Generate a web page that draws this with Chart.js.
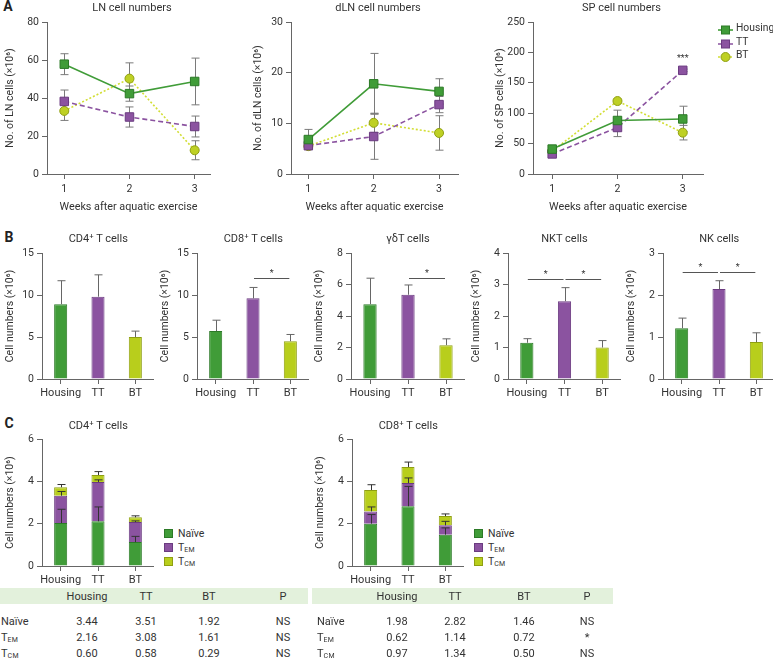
<!DOCTYPE html>
<html>
<head>
<meta charset="utf-8">
<script src="https://cdn.jsdelivr.net/npm/chart.js@4.4.1/dist/chart.umd.min.js"></script>
<style>
body { margin:0; width:773px; height:659px; position:relative; overflow:hidden; background:#fff; font-family:Roboto, 'Liberation Sans', sans-serif; color:#333; }
canvas { position:absolute; }
.t { position:absolute; transform:translate(-50%,-50%); white-space:nowrap; font-size:11px; color:#333; }
.tl { position:absolute; transform:translate(0,-50%); white-space:nowrap; font-size:11px; color:#333; }
.lab { position:absolute; font-weight:bold; font-size:14px; color:#222; transform:translate(-50%,-50%); }
.band { position:absolute; background:#e3f1dc; }
sub { font-size:7px; vertical-align:-1px; letter-spacing:0.3px; }
</style>
</head>
<body>
<script>
// ---- data ----
const weeks = [1, 2, 3];
const groups = ['Housing', 'TT', 'BT'];
const subsets = ['Naïve', 'T<sub>EM</sub>', 'T<sub>CM</sub>'];

// panel A: mean and SEM (x10^6)
const lnHousing = [57.8, 42.3, 48.7], lnHousingErr = [5.5, 4.0, 12.3];
const lnTT = [38.2, 30.0, 25.0], lnTTErr = [6.0, 5.3, 5.5];
const lnBT = [33.2, 50.2, 12.5], lnBTErr = [5.0, 8.3, 5.0];
const dlnHousing = [6.8, 17.8, 16.3], dlnHousingErr = [2.0, 6.0, 2.5];
const dlnTT = [5.6, 7.4, 13.7], dlnTTErr = [0.5, 4.5, 1.6];
const dlnBT = [5.5, 10.1, 8.1], dlnBTErr = [0.5, 1.9, 3.4];
const spHousing = [41, 88, 90.5], spHousingErr = [4, 17, 21];
const spTT = [33, 76.5, 170.5], spTTErr = [3, 15, 2];
const spBT = [37.5, 120, 68], spBTErr = [3, 3, 12];

// panel B: Housing, TT, BT
const cd4 = [8.9, 9.8, 5.0], cd4Err = [2.8, 2.6, 0.7];
const cd8 = [5.7, 9.6, 4.5], cd8Err = [1.3, 1.3, 0.8];
const gdT = [4.75, 5.35, 2.15], gdTErr = [1.65, 0.62, 0.4];
const nkt = [1.15, 2.47, 1.0], nktErr = [0.13, 0.43, 0.22];
const nk = [1.21, 2.14, 0.88], nkErr = [0.24, 0.2, 0.22];
const cd8Sig = [[1, 2, 12.0]];
const gdTSig = [[1, 2, 6.4]];
const nktSig = [[0, 1, 3.18], [1, 2, 3.18]];
const nkSig = [[0, 1, 2.54], [1, 2, 2.54]];

// panel C: stacked subsets
const cd4Naive = [2.03, 2.11, 1.13], cd4NaiveErr = [0.65, 0.68, 0.27];
const cd4Tem = [1.29, 1.86, 0.95], cd4TemErr = [0.2, 0.1, 0.05];
const cd4Tcm = [0.40, 0.33, 0.22], cd4TcmErr = [0.13, 0.16, 0.07];
const cd8Naive = [2.0, 2.82, 1.48], cd8NaiveErr = [0.43, 0.94, 0.32];
const cd8Tem = [0.58, 1.10, 0.44], cd8TemErr = [0.21, 0.24, 0.19];
const cd8Tcm = [1.01, 0.76, 0.44], cd8TcmErr = [0.25, 0.23, 0.1];

// tables
const tableHead = ['Housing', 'TT', 'BT', 'P'];
const cd4Table = [['3.44', '3.51', '1.92', 'NS'], ['2.16', '3.08', '1.61', 'NS'], ['0.60', '0.58', '0.29', 'NS']];
const cd8Table = [['1.98', '2.82', '1.46', 'NS'], ['0.62', '1.14', '0.72', '*'], ['0.97', '1.34', '0.50', 'NS']];

// ---- styles ----
const green = '#409c38', greenEdge = '#2c7a27';
const purple = '#8b53a0', purpleEdge = '#6b3b80';
const lime = '#b8ce1c', limeEdge = '#8f9f12';
const axisGray = '#666';

Chart.defaults.font.family = "Roboto, 'Liberation Sans', sans-serif";
Chart.defaults.font.size = 10.5;
Chart.defaults.color = '#333';
Chart.defaults.animation = false;

const errorBars = {
  id: 'errorBars',
  beforeDatasetsDraw(chart, args, o) { if (o.behind) drawErrors(chart, o); },
  afterDatasetsDraw(chart, args, o) { if (!o.behind) drawErrors(chart, o); }
};
function drawErrors(chart, o) {
  const ctx = chart.ctx, y = chart.scales.y;
  chart.data.datasets.forEach((ds, di) => {
    if (!ds.errors) return;
    chart.getDatasetMeta(di).data.forEach((el, i) => {
      const e = ds.errors[i];
      if (!e) return;
      const d = y.getPixelForValue(0) - y.getPixelForValue(e);
      const x = Math.round(el.x) + 0.5, top = el.y - d, bot = o.up ? el.y : el.y + d;
      const cap = o.cap || 4;
      ctx.save();
      ctx.strokeStyle = o.color || '#777';
      ctx.lineWidth = 1;
      ctx.beginPath();
      ctx.moveTo(x, bot); ctx.lineTo(x, top);
      ctx.moveTo(x - cap, top); ctx.lineTo(x + cap, top);
      if (!o.up) { ctx.moveTo(x - cap, bot); ctx.lineTo(x + cap, bot); }
      ctx.stroke();
      ctx.restore();
    });
  });
}

const sigMarks = {
  id: 'sigMarks',
  afterDatasetsDraw(chart, args, o) {
    const ctx = chart.ctx, x = chart.scales.x, y = chart.scales.y;
    ctx.save();
    ctx.strokeStyle = '#555';
    ctx.fillStyle = '#333';
    ctx.lineWidth = 1;
    ctx.textAlign = 'center';
    ctx.textBaseline = 'middle';
    ctx.font = "9px Roboto, 'Liberation Sans', sans-serif";
    (o.lines || []).forEach(([a, b, v]) => {
      const x1 = x.getPixelForValue(a) + 1, x2 = x.getPixelForValue(b) - 1;
      const py = Math.round(y.getPixelForValue(v)) + 0.5;
      ctx.beginPath(); ctx.moveTo(x1, py); ctx.lineTo(x2, py); ctx.stroke();
      ctx.fillText('*', (x1 + x2) / 2, py - 5);
    });
    (o.notes || []).forEach(n => {
      const el = chart.getDatasetMeta(n.ds).data[n.i];
      ctx.fillText(n.text, el.x, el.y - 12);
    });
    ctx.restore();
  }
};
Chart.register(errorBars, sigMarks);

// ---- helpers ----
function place(left, top, w, h) {
  const c = document.createElement('canvas');
  c.width = w; c.height = h;
  c.style.left = left + 'px'; c.style.top = top + 'px';
  document.body.appendChild(c);
  return c;
}
function addText(html, x, y, cls, size) {
  const d = document.createElement('div');
  d.className = cls || 't';
  d.style.left = x + 'px'; d.style.top = y + 'px';
  if (size) d.style.fontSize = size + 'px';
  d.innerHTML = html;
  document.body.appendChild(d);
  return d;
}
function yAxis(max, step, title, width, pad) {
  return {
    min: 0, max: max,
    ticks: { stepSize: step, padding: 3 },
    grid: { drawOnChartArea: false, tickLength: 5, color: axisGray },
    border: { color: axisGray },
    title: { display: true, text: title, padding: { top: pad, bottom: 0 }, font: { size: 10.5 } },
    afterFit(s) { s.width = width; }
  };
}
function xWeeks(min, max) {
  return {
    type: 'linear', min: min, max: max,
    afterBuildTicks(s) { s.ticks = weeks.map(v => ({ value: v })); },
    ticks: { padding: 4, maxRotation: 0 },
    grid: { drawOnChartArea: false, tickLength: 5, color: axisGray },
    border: { color: axisGray },
    title: { display: true, text: 'Weeks after aquatic exercise', padding: { top: 0, bottom: 4 }, font: { size: 10.8 } },
    afterFit(s) { s.height = 44; }
  };
}
function xGroups(stacked) {
  return {
    stacked: stacked,
    offset: true,
    grid: { offset: false, drawOnChartArea: false, tickLength: 5, color: axisGray },
    border: { color: axisGray },
    ticks: { padding: 3, font: { size: 11 }, maxRotation: 0, minRotation: 0, autoSkip: false },
    afterFit(s) { s.height = 24; }
  };
}
function pts(vals) { return weeks.map((w, i) => ({ x: w, y: vals[i] })); }
function lineSets(h, hE, t, tE, b, bE) {
  return [
    { label: groups[0], data: pts(h), errors: hE, borderColor: green, borderWidth: 1.6,
      pointStyle: 'rect', pointRadius: 6, pointBackgroundColor: green, pointBorderColor: greenEdge, pointBorderWidth: 1 },
    { label: groups[1], data: pts(t), errors: tE, borderColor: purple, borderWidth: 1.6, borderDash: [5, 3],
      pointStyle: 'rect', pointRadius: 6, pointBackgroundColor: purple, pointBorderColor: purpleEdge, pointBorderWidth: 1 },
    { label: groups[2], data: pts(b), errors: bE, borderColor: '#d2de34', borderWidth: 1.6, borderDash: [2, 2],
      pointStyle: 'circle', pointRadius: 4.5, pointBackgroundColor: '#bed024', pointBorderColor: limeEdge, pointBorderWidth: 1 }
  ];
}

// ---- panel A ----
function lineChart(left, axisX, right, xmin, xmax, title, yTitle, max, step, sets, notes) {
  const top = 12;
  const c = place(left, top, right - left, 174 + 44 - top);
  addText(title, (axisX + right) / 2, 7);
  new Chart(c, {
    type: 'line',
    data: { datasets: sets },
    options: {
      responsive: false,
      layout: { padding: { top: 10, right: 0, bottom: 0, left: 0 } },
      scales: { x: xWeeks(xmin, xmax), y: yAxis(max, step, yTitle, axisX - left, 4) },
      plugins: { legend: { display: false }, tooltip: { enabled: false },
        errorBars: { behind: true, color: '#7a7a7a', cap: 4 }, sigMarks: { notes: notes || [] } }
    }
  });
}
addText('A', 8, 6, 'lab');
lineChart(0, 47, 217, 0.735, 3.235, 'LN cell numbers', 'No. of LN cells (×10⁶)', 80, 20,
  lineSets(lnHousing, lnHousingErr, lnTT, lnTTErr, lnBT, lnBTErr));
lineChart(248, 291, 465, 0.735, 3.29, 'dLN cell numbers', 'No. of dLN cells (×10⁶)', 30, 10,
  lineSets(dlnHousing, dlnHousingErr, dlnTT, dlnTTErr, dlnBT, dlnBTErr));
lineChart(490, 533, 710, 0.706, 3.31, 'SP cell numbers', 'No. of SP cells (×10⁶)', 250, 50,
  lineSets(spHousing, spHousingErr, spTT, spTTErr, spBT, spBTErr), [{ ds: 1, i: 2, text: '***' }]);

// legend for panel A
(function () {
  const marks = [
    '<rect x="3.5" y="-4" width="8" height="8" fill="' + green + '" stroke="' + greenEdge + '"/>',
    '<rect x="3.5" y="-4" width="8" height="8" fill="' + purple + '" stroke="' + purpleEdge + '"/>',
    '<circle cx="7.5" cy="0" r="4.5" fill="#bed024" stroke="' + limeEdge + '"/>'
  ];
  const strokes = [green, purple, '#d2de34'];
  const dashes = ['', '4 2', '2 2'];
  groups.forEach((g, i) => {
    const y = 27 + i * 13.5;
    const d = document.createElement('div');
    d.style.cssText = 'position:absolute;left:718px;top:' + (y - 6) + 'px;width:16px;height:12px';
    d.innerHTML = '<svg width="16" height="12" viewBox="0 -6 16 12"><line x1="0" y1="0" x2="15" y2="0" stroke="' +
      strokes[i] + '" stroke-width="1.6" stroke-dasharray="' + dashes[i] + '"/>' + marks[i] + '</svg>';
    document.body.appendChild(d);
    addText(g, 736, y, 'tl', 10.3);
  });
})();

// ---- panel B ----
function barChart(axisX, areaW, title, vals, errs, max, step, sig) {
  const top = 243, left = axisX - 40;
  const c = place(left, top, 40 + areaW, 379 + 24 - top);
  addText(title, axisX + areaW / 2, 238);
  new Chart(c, {
    type: 'bar',
    data: { labels: groups, datasets: [{ data: vals, errors: errs,
      backgroundColor: [green, purple, lime], borderColor: [greenEdge, purpleEdge, limeEdge], borderWidth: 1,
      barPercentage: 0.35, categoryPercentage: 1 }] },
    options: {
      responsive: false,
      layout: { padding: { top: 10, right: 0, bottom: 0, left: 0 } },
      scales: { x: xGroups(false), y: yAxis(max, step, 'Cell numbers (×10⁶)', 40, 2) },
      plugins: { legend: { display: false }, tooltip: { enabled: false },
        errorBars: { up: true, color: '#666', cap: 4 }, sigMarks: { lines: sig || [] } }
    }
  });
}
addText('B', 9, 237, 'lab');
barChart(42, 112.5, 'CD4⁺ T cells', cd4, cd4Err, 15, 5);
barChart(197, 112.5, 'CD8⁺ T cells', cd8, cd8Err, 15, 5, cd8Sig);
barChart(351, 114, 'γδT cells', gdT, gdTErr, 8, 2, gdTSig);
barChart(508, 113, 'NKT cells', nkt, nktErr, 4, 1, nktSig);
barChart(663, 112.5, 'NK cells', nk, nkErr, 3, 1, nkSig);

// ---- panel C ----
function stackChart(axisX, title, naive, naiveE, tem, temE, tcm, tcmE) {
  const top = 429, left = axisX - 40, areaW = 112.5;
  const c = place(left, top, 40 + areaW, 566 + 24 - top);
  addText(title, axisX + areaW / 2, 425);
  const seg = (data, err, fill, edge) => ({ data: data, errors: err, backgroundColor: fill, borderColor: edge,
    borderWidth: 1, barPercentage: 0.35, categoryPercentage: 1 });
  new Chart(c, {
    type: 'bar',
    data: { labels: groups, datasets: [
      seg(naive, naiveE, green, greenEdge), seg(tem, temE, purple, purpleEdge), seg(tcm, tcmE, lime, limeEdge)] },
    options: {
      responsive: false,
      layout: { padding: { top: 10, right: 0, bottom: 0, left: 0 } },
      scales: { x: xGroups(true), y: Object.assign(yAxis(6, 2, 'Cell numbers (×10⁶)', 40, 2), { stacked: true }) },
      plugins: { legend: { display: false }, tooltip: { enabled: false },
        errorBars: { up: true, color: '#333', cap: 4 } }
    }
  });
  // legend
  const fills = [[green, greenEdge], [purple, purpleEdge], [lime, limeEdge]];
  subsets.forEach((s, i) => {
    const y = 533 + i * 14;
    const sq = document.createElement('div');
    sq.style.cssText = 'position:absolute;left:' + (axisX + 122) + 'px;top:' + (y - 4) + 'px;width:7px;height:7px;background:' +
      fills[i][0] + ';border:1px solid ' + fills[i][1];
    document.body.appendChild(sq);
    addText(s, axisX + 136, y, 'tl', 10.5);
  });
}
addText('C', 9, 423, 'lab');
stackChart(42, 'CD4⁺ T cells', cd4Naive, cd4NaiveErr, cd4Tem, cd4TemErr, cd4Tcm, cd4TcmErr);
stackChart(352, 'CD8⁺ T cells', cd8Naive, cd8NaiveErr, cd8Tem, cd8TemErr, cd8Tcm, cd8TcmErr);

// ---- tables ----
function table(x0, x1, labelX, cols, rows) {
  const b = document.createElement('div');
  b.className = 'band';
  b.style.cssText = 'left:' + x0 + 'px;top:588px;width:' + (x1 - x0) + 'px;height:16px';
  document.body.appendChild(b);
  tableHead.forEach((h, j) => addText(h, cols[j], 596));
  rows.forEach((r, i) => {
    const y = 621 + i * 16;
    addText(subsets[i], labelX, y, 'tl');
    r.forEach((v, j) => addText(v, cols[j], y));
  });
}
table(0, 308, 1, [87, 146, 209, 283], cd4Table);
table(312, 613, 317, [397, 455, 524, 587], cd8Table);
</script>
</body>
</html>
